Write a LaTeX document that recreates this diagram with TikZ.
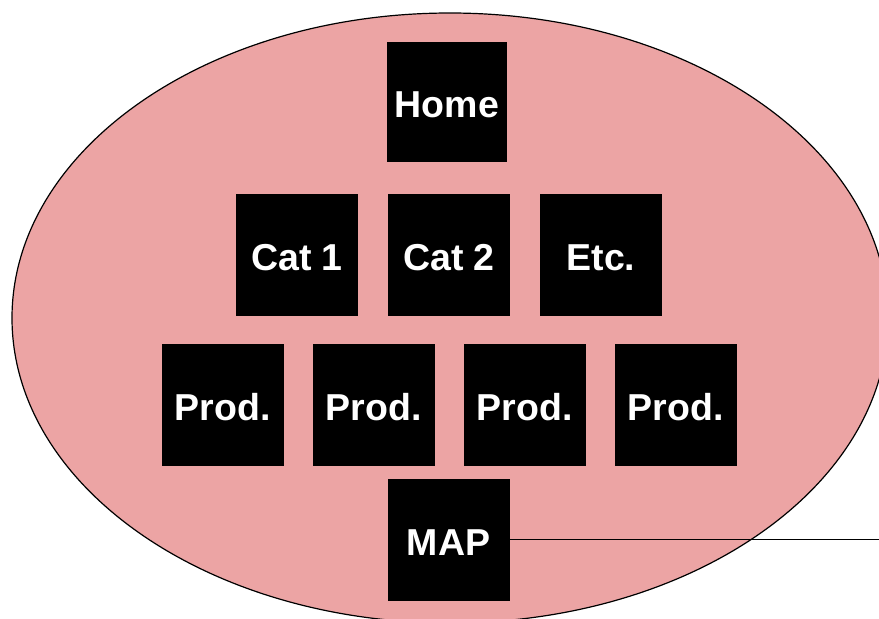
\documentclass[tikz,border=0pt]{standalone}
\usepackage{fontspec}
\setmainfont{Liberation Sans}
\usetikzlibrary{positioning}
\definecolor{sitepink}{RGB}{236,164,164}

\begin{document}
\begin{tikzpicture}[x=1pt,y=1pt,
  page/.style={fill=black,text=white,font=\bfseries\fontsize{37.5}{40}\selectfont,
    minimum width=122pt,minimum height=122pt,inner sep=0pt,outer sep=0pt,
    text height=31pt,text depth=0pt}]

        \useasboundingbox (0,0) rectangle (879,-619);
        \draw[fill=sitepink,line width=1.2pt] (450,-318) ellipse [x radius=438, y radius=305];

        \node[page] (cat2) at (449,-254.5) {Cat 2};
        \node[page] (cat1) [left = 30pt of cat2] {Cat 1};
        \node[page] (etc) [right = 30pt of cat2] {Etc.};
        \node[page,minimum width=120pt,minimum height=120pt] (home) [above = 32pt of cat2, xshift=-2pt] {Home};

        \node[page] (prod2) [below = 28pt of cat2, xshift=-75.5pt] {Prod.};
        \node[page] (prod1) [left = 29pt of prod2] {Prod.};
        \node[page] (prod3) [right = 29pt of prod2] {Prod.};
        \node[page] (prod4) [right = 29pt of prod3] {Prod.};

        \node[page] (map) [below = 13pt of prod2, xshift=75pt] {MAP};

        \coordinate (edge) at (879,-541);
        \draw[line width=1pt] (map.east) -- (map.east -| edge);
      \end{tikzpicture}
\end{document}
